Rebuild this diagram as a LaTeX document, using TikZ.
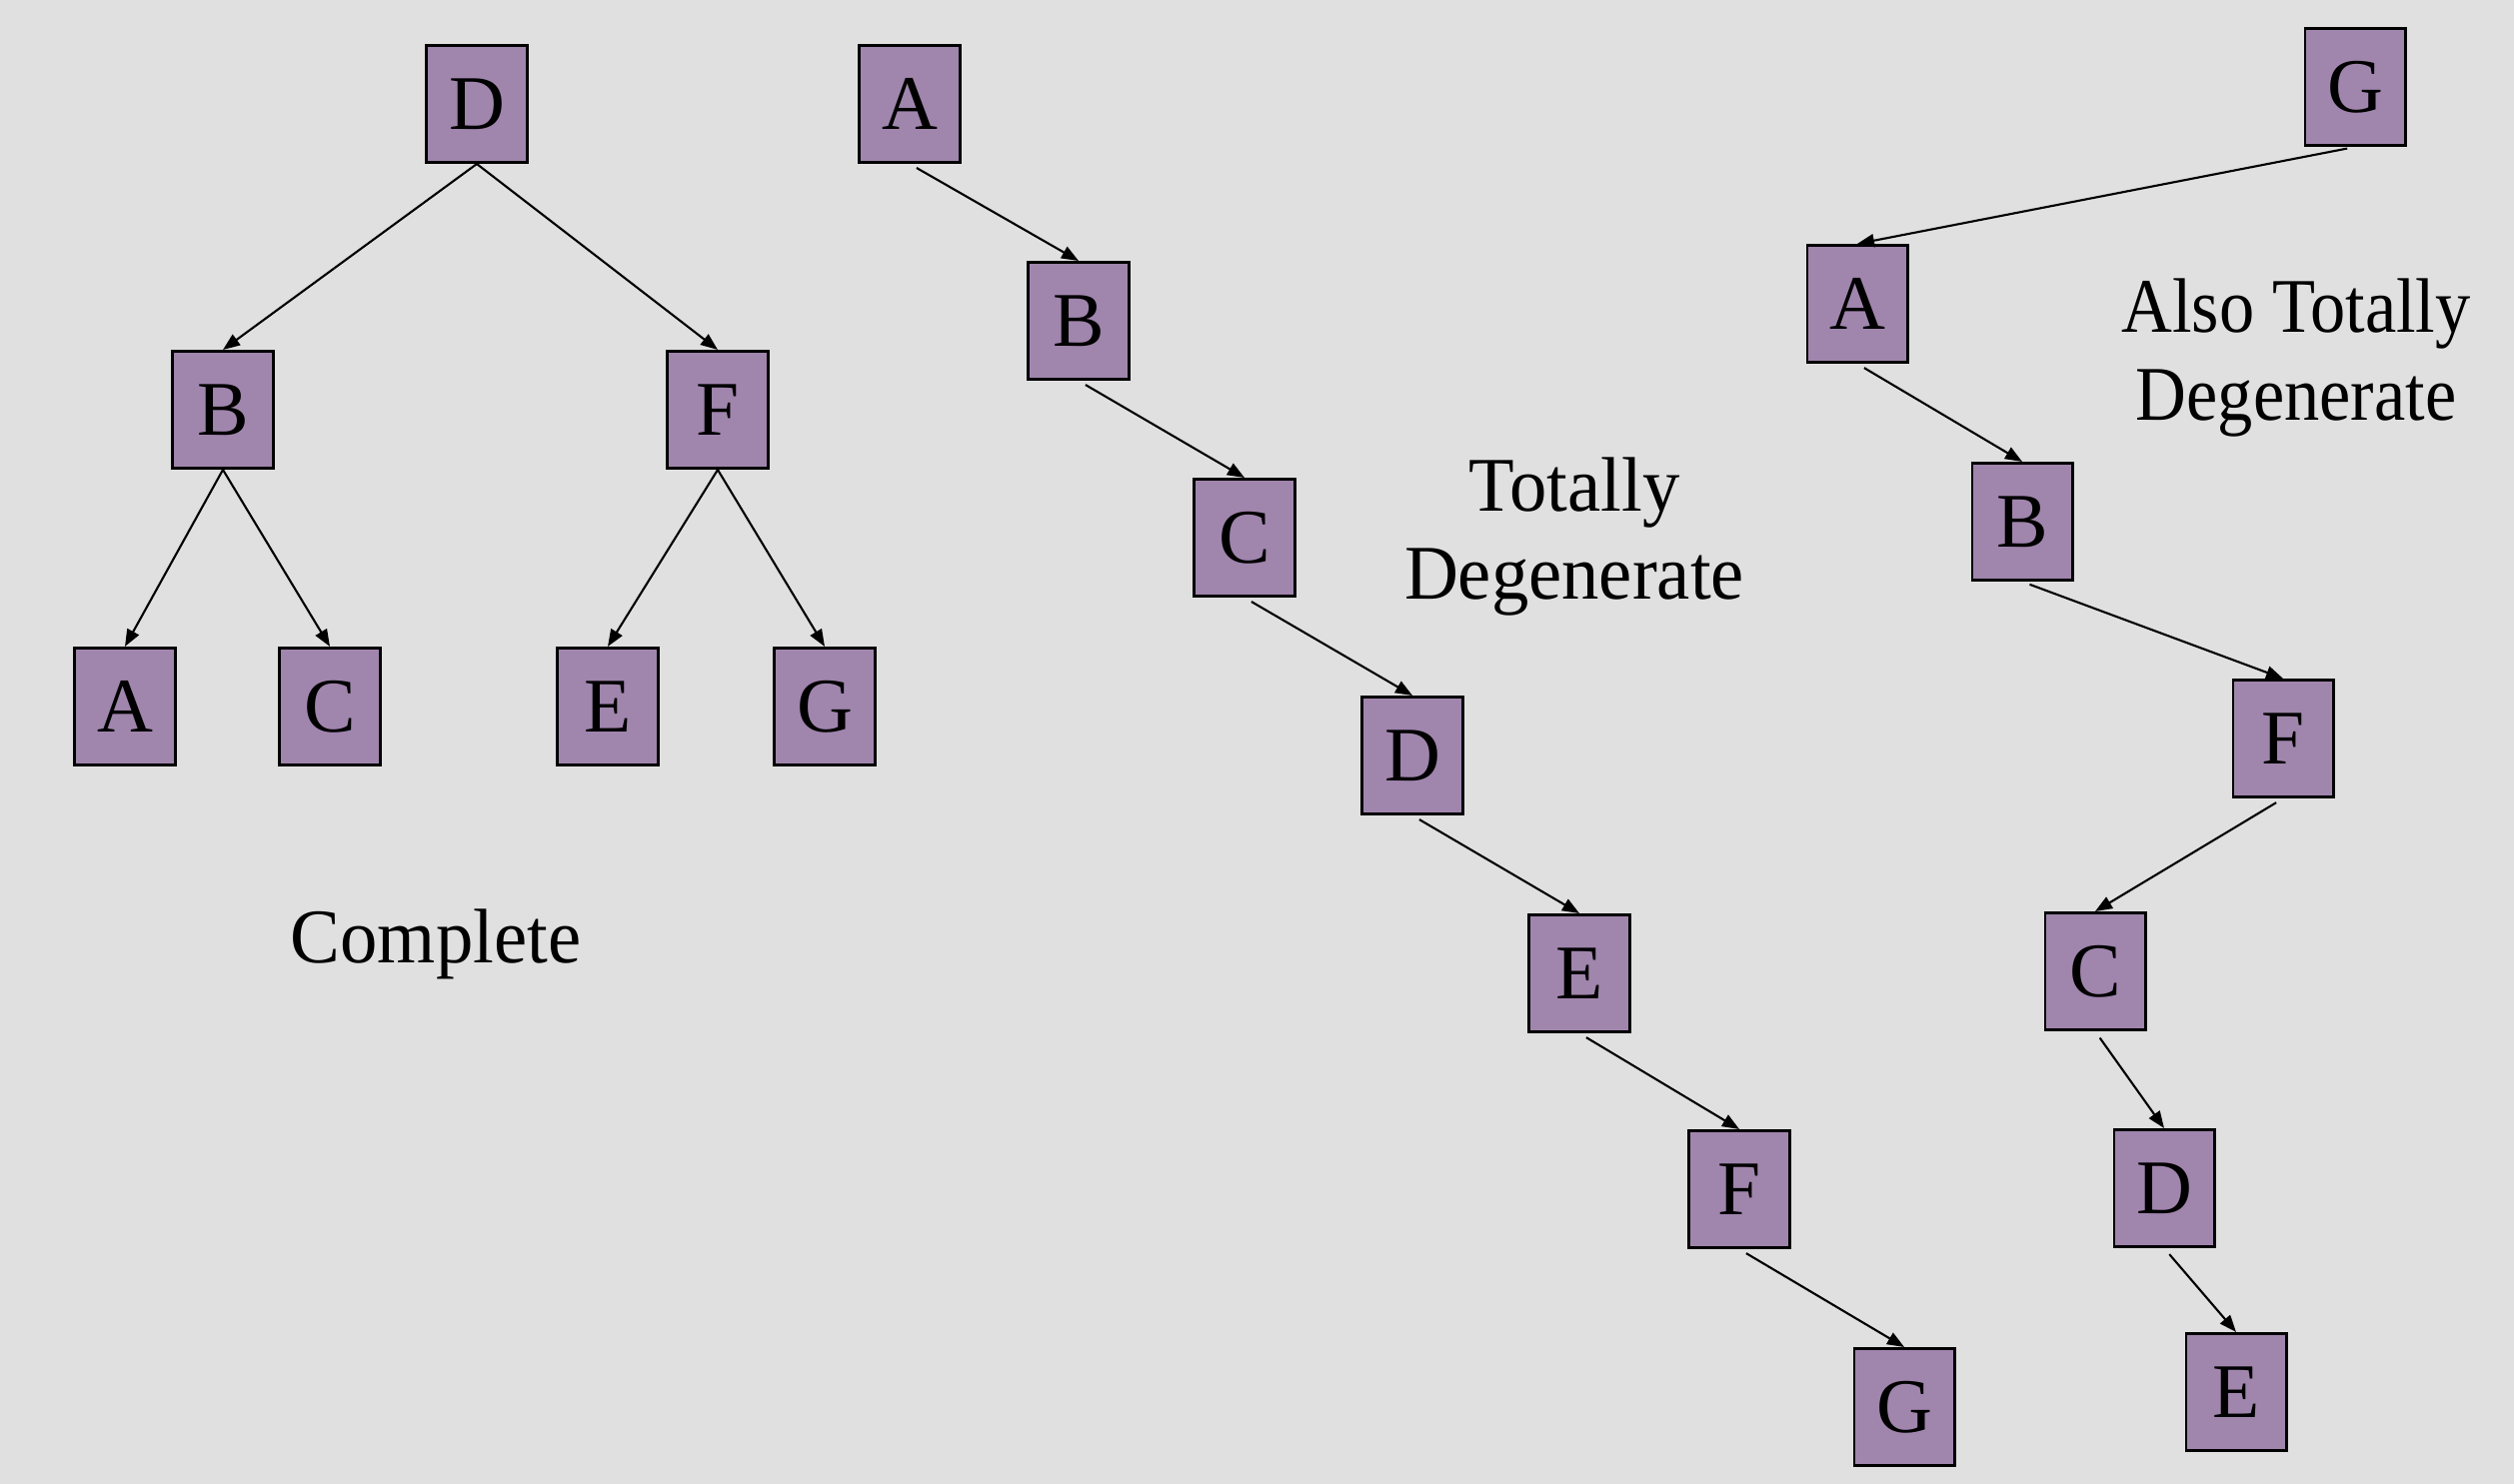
\documentclass[tikz,border=0pt]{standalone}
\usepackage{fontspec}
\setmainfont{Liberation Serif}
\newfontfamily\capfont[FakeStretch=0.965]{Liberation Serif}
\newfontfamily\capnarrow[FakeStretch=0.91]{Liberation Serif}
\usetikzlibrary{arrows.meta}
\definecolor{slide}{HTML}{E0E0E0}
\definecolor{plum}{HTML}{A085AD}
\begin{document}
\begin{tikzpicture}[
  x=0.01cm, y=-0.01cm,
  font=\fontsize{22}{25.3}\selectfont,
  >={Triangle[length=1.7mm, width=1.3mm]},
  key/.style={draw=black, line width=0.85pt, fill=plum, inner sep=0pt,
              minimum width=1.0cm, minimum height=1.17cm},
  link/.style={->, line width=0.6pt},
  chain/.style={link, shorten <=0.08cm},
  caption/.style={align=center, font=\capfont\fontsize{22}{25.3}\selectfont},
]
\fill[slide] (0,0) rectangle (2515,1485);
\useasboundingbox (0,0) rectangle (2515,1485);

% ===== complete tree =====
\node[key] (LD) at (477,104)  {D};
\node[key] (LB) at (223,410)  {B};
\node[key] (LF) at (718,410)  {F};
\node[key] (LA) at (125,707)  {A};
\node[key] (LC) at (330,707)  {C};
\node[key] (LE) at (608,707)  {E};
\node[key] (LG) at (825,707)  {G};
\draw[link] (LD.south) -- (LB.north);
\draw[link] (LD.south) -- (LF.north);
\draw[link] (LB.south) -- (LA.north);
\draw[link] (LB.south) -- (LC.north);
\draw[link] (LF.south) -- (LE.north);
\draw[link] (LF.south) -- (LG.north);
\node[caption] (cmp) at (436,945) {Complete};

% ===== degenerate chain A..G =====
\node[key] (MA) at (910,104)   {A};
\node[key] (MB) at (1079,321)  {B};
\node[key] (MC) at (1245,538)  {C};
\node[key] (MD) at (1413,756)  {D};
\node[key] (ME) at (1580,974)  {E};
\node[key] (MF) at (1740,1190) {F};
\node[key] (MG) at (1905,1408) {G};
\draw[chain] (MA.south) -- (MB.north);
\draw[chain] (MB.south) -- (MC.north);
\draw[chain] (MC.south) -- (MD.north);
\draw[chain] (MD.south) -- (ME.north);
\draw[chain] (ME.south) -- (MF.north);
\draw[chain] (MF.south) -- (MG.north);
\node[caption] (deg) at (1575,537) {Totally\\Degenerate};

% ===== zig-zag chain G,A,B,F,C,D,E =====
\node[key] (RG) at (2356,87)   {G};
\node[key] (RA) at (1858,304)  {A};
\node[key] (RB) at (2023,522)  {B};
\node[key] (RF) at (2284,739)  {F};
\node[key] (RC) at (2096,972)  {C};
\node[key] (RD) at (2165,1189) {D};
\node[key] (RE) at (2237,1393) {E};
\draw[chain] (RG.south) -- (RA.north);
\draw[chain] (RA.south) -- (RB.north);
\draw[chain] (RB.south) -- (RF.north);
\draw[chain] (RF.south) -- (RC.north);
\draw[chain] (RC.south) -- (RD.north);
\draw[chain] (RD.south) -- (RE.north);
\node[caption, font=\capnarrow\fontsize{22}{25.3}\selectfont] (adeg) at (2297,358)
  {Also Totally\\Degenerate};
\end{tikzpicture}
\end{document}
